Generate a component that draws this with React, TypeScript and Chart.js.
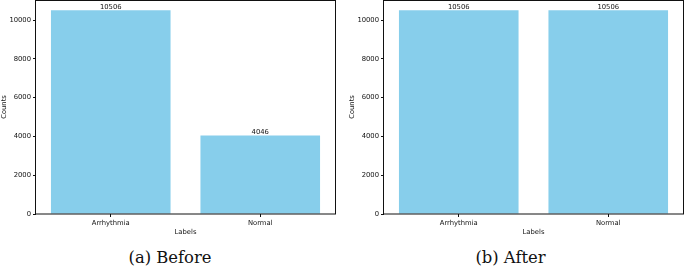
import React, { useEffect, useRef } from "react";
import { Chart, registerables } from "chart.js";

Chart.register(...registerables);

const categories = ["Arrhythmia", "Normal"];
const beforeCounts = [10506, 4046];
const afterCounts = [10506, 10506];
const captions = ["(a) Before", "(b) After"];
const yTickValues = [0, 2000, 4000, 6000, 8000, 10000];
const yAxisMax = 11031;

const FONT = "DejaVu Sans";
const TEXT = "#111";

const framePlugin = {
  id: "frame",
  afterDatasetsDraw(chart: any) {
    const { ctx, chartArea } = chart;
    const { left, right, top, bottom } = chartArea;
    ctx.save();
    ctx.strokeStyle = "#111";
    ctx.lineWidth = 1;
    ctx.strokeRect(Math.round(left) - 0.5, Math.round(top) + 0.5, Math.round(right) - Math.round(left) + 1, Math.round(bottom) - Math.round(top) - 0.5);
    ctx.fillStyle = TEXT;
    ctx.font = `6.8px "${FONT}"`;
    ctx.textAlign = "center";
    ctx.textBaseline = "alphabetic";
    const meta = chart.getDatasetMeta(0);
    const data = chart.data.datasets[0].data;
    meta.data.forEach((bar: any, i: number) => {
      ctx.fillText(String(data[i]), bar.x, bar.y - 1.5);
    });
    ctx.restore();
  },
};

function BarPanel({ values, left, width, padRight }: { values: number[]; left: number; width: number; padRight: number }) {
  const ref = useRef<HTMLCanvasElement>(null);
  useEffect(() => {
    const canvas = ref.current!;
    const chart = new Chart(canvas, {
      type: "bar",
      data: {
        labels: categories,
        datasets: [
          {
            data: values,
            backgroundColor: "#87CEEB",
            borderWidth: 0,
            barPercentage: 0.8,
            categoryPercentage: 1,
          },
        ],
      },
      options: {
        responsive: false,
        maintainAspectRatio: false,
        animation: false,
        events: [],
        layout: { padding: { left: 0, right: padRight, top: 0, bottom: 0 } },
        plugins: { legend: { display: false }, tooltip: { enabled: false }, title: { display: false } },
        scales: {
          x: {
            type: "category",
            offset: true,
            border: { display: false },
            grid: { offset: false, drawOnChartArea: false, drawTicks: true, tickLength: 3, tickColor: "#111" },
            ticks: { color: TEXT, font: { family: FONT, size: 6.8 }, padding: 2, maxRotation: 0, autoSkip: false },
            title: { display: true, text: "Labels", color: TEXT, font: { family: FONT, size: 6.8 }, padding: { top: 0, bottom: 3.6 } },
            afterFit(scale: any) {
              scale.height = 26;
              scale.paddingLeft = 0;
              scale.paddingRight = 0;
            },
          },
          y: {
            type: "linear",
            min: 0,
            max: yAxisMax,
            border: { display: false },
            grid: { drawOnChartArea: false, drawTicks: true, tickLength: 3, tickColor: "#111" },
            ticks: {
              color: TEXT,
              font: { family: FONT, size: 6.8 },
              padding: 2,
              autoSkip: false,
              callback: (v: any) => String(v),
            },
            title: { display: true, text: "Counts", color: TEXT, font: { family: FONT, size: 6.8 }, padding: { top: 0, bottom: 0 } },
            afterBuildTicks(scale: any) {
              scale.ticks = yTickValues.map((v) => ({ value: v }));
            },
            afterFit(scale: any) {
              scale.width = 36;
              scale.paddingTop = 0;
              scale.paddingBottom = 0;
            },
          },
        },
      },
      plugins: [framePlugin],
    } as any);
    return () => chart.destroy();
  }, []);
  return (
    <canvas
      ref={ref}
      width={width}
      height={240}
      style={{ position: "absolute", left, top: 0, width, height: 240 }}
    />
  );
}

export default function App() {
  const captionStyle = (cx: number): React.CSSProperties => ({
    position: "absolute",
    left: cx - 80,
    width: 160,
    top: 258 - 10,
    height: 20,
    lineHeight: "20px",
    textAlign: "center",
    fontFamily: '"DejaVu Serif", serif',
    fontSize: 16.4,
    color: "#111",
    whiteSpace: "nowrap",
  });
  return (
    <div style={{ position: "absolute", left: 0, top: 0, width: 685, height: 267, background: "#fff", overflow: "hidden" }}>
      <BarPanel values={beforeCounts} left={0} width={340} padRight={5} />
      <BarPanel values={afterCounts} left={348} width={337} padRight={2} />
      <div style={captionStyle(170)}>{captions[0]}</div>
      <div style={captionStyle(510.5)}>{captions[1]}</div>
    </div>
  );
}
